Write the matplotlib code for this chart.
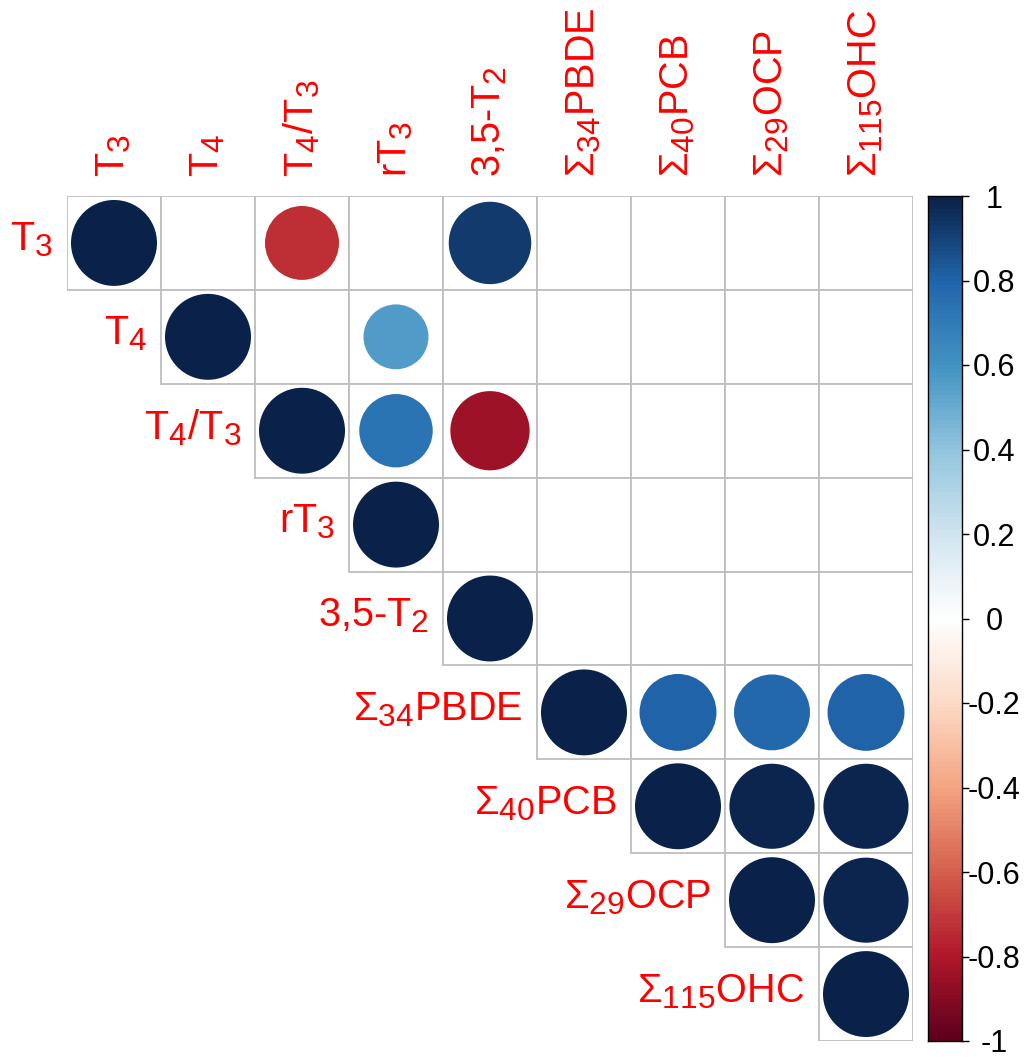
import numpy as np
import matplotlib
matplotlib.use('Agg')
import matplotlib.pyplot as plt
import matplotlib._mathtext as _mt
from matplotlib.patches import Circle, Rectangle
from matplotlib.colors import LinearSegmentedColormap

plt.rcParams['font.family'] = ['Liberation Sans', 'DejaVu Sans']
plt.rcParams['mathtext.fontset'] = 'custom'
plt.rcParams['mathtext.rm'] = 'Liberation Sans'
plt.rcParams['mathtext.it'] = 'Liberation Sans'
plt.rcParams['mathtext.bf'] = 'Liberation Sans:bold'
_mt.SHRINK_FACTOR = 0.8  # larger subscripts, like R plotmath

# ---- data ----
variables = ['T$_3$', 'T$_4$', 'T$_4$/T$_3$', 'rT$_3$', '3,5-T$_2$',
             'Σ$_{34}$PBDE', 'Σ$_{40}$PCB', 'Σ$_{29}$OCP', 'Σ$_{115}$OHC']
# upper triangle correlations; None = not significant (blank cell)
corr_T3    = [1.00, None, -0.74, None, 0.92, None, None, None, None]
corr_T4    = [None, 1.00, None, 0.57, None, None, None, None, None]
corr_T4T3  = [None, None, 1.00, 0.73, -0.85, None, None, None, None]
corr_rT3   = [None, None, None, 1.00, None, None, None, None, None]
corr_T2    = [None, None, None, None, 1.00, None, None, None, None]
corr_PBDE  = [None, None, None, None, None, 1.00, 0.80, 0.78, 0.80]
corr_PCB   = [None, None, None, None, None, None, 1.00, 0.98, 0.98]
corr_OCP   = [None, None, None, None, None, None, None, 1.00, 0.98]
corr_OHC   = [None, None, None, None, None, None, None, None, 1.00]
corr_rows = [corr_T3, corr_T4, corr_T4T3, corr_rT3, corr_T2,
             corr_PBDE, corr_PCB, corr_OCP, corr_OHC]
cbar_ticks = [-1, -0.8, -0.6, -0.4, -0.2, 0, 0.2, 0.4, 0.6, 0.8, 1]
cbar_labels = ['-1', '-0.8', '-0.6', '-0.4', '-0.2', '0', '0.2', '0.4', '0.6', '0.8', '1']

# ---- colormap (RdBu ramp as in corrplot) ----
cmap = LinearSegmentedColormap.from_list('rdbu', [
    "#5E001C", "#B2182B", "#D6604D", "#F4A582", "#FDDBC7", "#FFFFFF",
    "#D1E5F0", "#92C5DE", "#4393C3", "#2166AC", "#0A2249"], N=200)

W, H = 1031, 1057
fig = plt.figure(figsize=(W / 100, H / 100), dpi=100)

gx0, gx1, gy0, gy1 = 67, 913, 196, 1041
ax = fig.add_axes([gx0 / W, 1 - gy1 / H, (gx1 - gx0) / W, (gy1 - gy0) / H])
n = len(variables)
ax.set_xlim(0, n)
ax.set_ylim(n, 0)
ax.axis('off')

grid_col = '#BEBEBE'
for i in range(n):
    for j in range(i, n):
        ax.add_patch(Rectangle((j, i), 1, 1, facecolor='white',
                               edgecolor=grid_col, lw=1.3, zorder=1))
for i, row in enumerate(corr_rows):
    for j, v in enumerate(row):
        if v is None:
            continue
        r = 0.915 * np.sqrt(abs(v)) / 2
        ax.add_patch(Circle((j + 0.5, i + 0.5), r,
                            facecolor=cmap((v + 1) / 2), edgecolor='none', zorder=2))

lab_size = 28.5
for k, name in enumerate(variables):
    # column labels
    ax.text(k + 0.5, -0.2, name, rotation=90, ha='center', va='bottom',
            color='red', fontsize=lab_size, clip_on=False)
    # row labels
    ax.text(k - 0.15, k + 0.47, name, ha='right', va='center',
            color='red', fontsize=lab_size, clip_on=False)

# ---- colorbar ----
cx0, cx1 = 928, 962
cax = fig.add_axes([cx0 / W, 1 - gy1 / H, (cx1 - cx0) / W, (gy1 - gy0) / H])
grad = np.linspace(-1, 1, 200).reshape(-1, 1)
cax.imshow(grad, cmap=cmap, vmin=-1, vmax=1, aspect='auto', origin='lower',
           extent=[0, 1, -1, 1])
cax.set_xticks([])
cax.yaxis.tick_right()
cax.set_yticks(cbar_ticks)
cax.set_yticklabels(cbar_labels)
cax.tick_params(axis='y', length=5, width=1, pad=18, labelsize=22)
for t in cax.get_yticklabels():
    t.set_ha('center')
for s in cax.spines.values():
    s.set_linewidth(1)

fig.savefig('out.png', dpi=100)
